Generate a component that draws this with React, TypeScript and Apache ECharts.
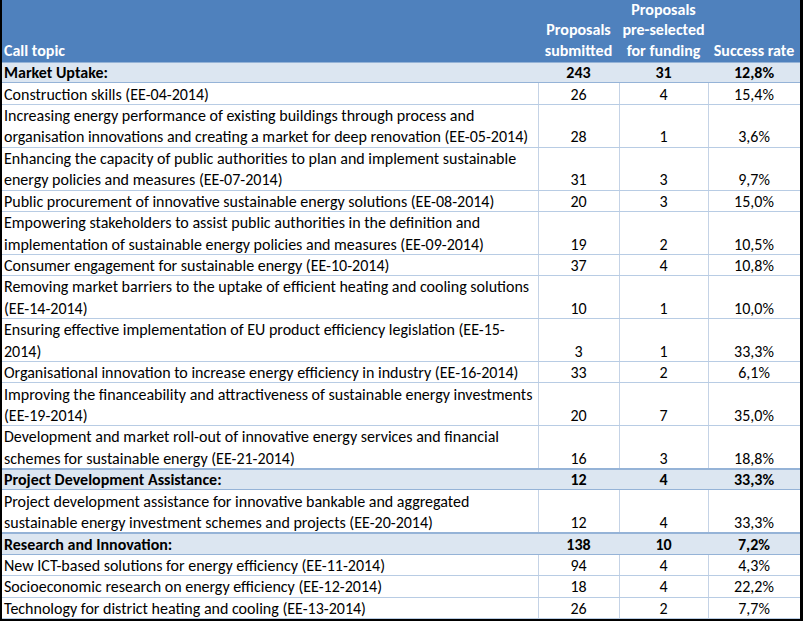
import React, { useEffect, useRef } from "react";
import * as echarts from "echarts";

// ---------- data ----------
const headerLabels = ["Call topic", "Proposals\nsubmitted", "Proposals\npre-selected\nfor funding", "Success rate"];

const topics = [
  "Market Uptake:",
  "Construction skills (EE-04-2014)",
  "Increasing energy performance of existing buildings through process and\norganisation innovations and creating a market for deep renovation (EE-05-2014)",
  "Enhancing the capacity of public authorities to plan and implement sustainable\nenergy policies and measures (EE-07-2014)",
  "Public procurement of innovative sustainable energy solutions (EE-08-2014)",
  "Empowering stakeholders to assist public authorities in the definition and\nimplementation of sustainable energy policies and measures (EE-09-2014)",
  "Consumer engagement for sustainable energy (EE-10-2014)",
  "Removing market barriers to the uptake of efficient heating and cooling solutions\n(EE-14-2014)",
  "Ensuring effective implementation of EU product efficiency legislation (EE-15-\n2014)",
  "Organisational innovation to increase energy efficiency in industry (EE-16-2014)",
  "Improving the financeability and attractiveness of sustainable energy investments\n(EE-19-2014)",
  "Development and market roll-out of innovative energy services and financial\nschemes for sustainable energy (EE-21-2014)",
  "Project Development Assistance:",
  "Project development assistance for innovative bankable and aggregated\nsustainable energy investment schemes and projects (EE-20-2014)",
  "Research and Innovation:",
  "New ICT-based solutions for energy efficiency (EE-11-2014)",
  "Socioeconomic research on energy efficiency (EE-12-2014)",
  "Technology for district heating and cooling (EE-13-2014)",
];

const submitted = [243, 26, 28, 31, 20, 19, 37, 10, 3, 33, 20, 16, 12, 12, 138, 94, 18, 26];
const preselected = [31, 4, 1, 3, 3, 2, 4, 1, 1, 2, 7, 3, 4, 4, 10, 4, 4, 2];
const successRate = [12.8, 15.4, 3.6, 9.7, 15.0, 10.5, 10.8, 10.0, 33.3, 6.1, 35.0, 18.8, 33.3, 33.3, 7.2, 4.3, 22.2, 7.7];
const isGroup = [true, false, false, false, false, false, false, false, false, false, false, false, true, false, true, false, false, false];

// ---------- layout / style ----------
const X_MAX = 798;
const COL_EDGES = [0, 536, 617, 706, X_MAX];
const HEADER_UNITS = 2.8;
const FONT = "Carlito, Calibri, Lato, sans-serif";
const FONT_SIZE = 16;
const HEADER_BG = "#4F81BD";
const GROUP_BG = "#DCE6F1";
const GROUP_LINE = "#95B3D7";
const ROW_LINE = "#B8CCE4";
const COL_LINE = "#C5D3E6";

const fmtRate = (v: number) => v.toFixed(1).replace(".", ",") + "%";

export default function App() {
  const ref = useRef<HTMLDivElement>(null);

  useEffect(() => {
    if (!ref.current) return;
    const chart = echarts.init(ref.current, null, { renderer: "svg" });

    const lineCounts = topics.map((t) => t.split("\n").length);
    const rows: number[][] = [];
    let acc = 0;
    lineCounts.forEach((n, i) => {
      rows.push([acc, acc + n, i]);
      acc += n;
    });
    const totalUnits = acc;

    const colCenter = (c: number) => (COL_EDGES[c] + COL_EDGES[c + 1]) / 2;

    const rowRender = (params: any, api: any) => {
      const y0 = api.value(0) as number;
      const y1 = api.value(1) as number;
      const i = api.value(2) as number;
      const [xL, yT] = api.coord([0, y0]);
      const [xR, yB] = api.coord([X_MAX, y1]);
      const unit = api.size([0, 1])[1];
      const top = Math.round(yT);
      const bot = Math.round(yB);
      const group = isGroup[i];
      const children: any[] = [];
      children.push({
        type: "rect",
        shape: { x: xL, y: top, width: xR - xL, height: bot - top },
        style: { fill: group ? GROUP_BG : "#FFFFFF" },
      });
      if (!group) {
        for (let c = 1; c < COL_EDGES.length - 1; c++) {
          const xc = Math.round(api.coord([COL_EDGES[c], 0])[0]) + 0.5;
          children.push({
            type: "line",
            shape: { x1: xc, y1: top, x2: xc, y2: bot },
            style: { stroke: COL_LINE, lineWidth: 1 },
          });
        }
      }
      children.push({
        type: "line",
        shape: { x1: xL, y1: bot - 0.5, x2: xR, y2: bot - 0.5 },
        style: { stroke: group || isGroup[i + 1] ? GROUP_LINE : ROW_LINE, lineWidth: 1 },
      });
      if (group) {
        children.push({
          type: "line",
          shape: { x1: xL, y1: top + 0.5, x2: xR, y2: top + 0.5 },
          style: { stroke: GROUP_LINE, lineWidth: 1 },
        });
      }
      const weight = group ? "bold" : "normal";
      children.push({
        type: "text",
        style: {
          text: topics[i],
          x: xL + 2,
          y: (yT + yB) / 2,
          align: "left",
          verticalAlign: "middle",
          lineHeight: unit,
          fontFamily: FONT,
          fontSize: FONT_SIZE,
          fontWeight: weight,
          fill: "#000000",
        },
      });
      const lastY = yB - unit / 2;
      const vals = [String(submitted[i]), String(preselected[i]), fmtRate(successRate[i])];
      vals.forEach((v, k) => {
        children.push({
          type: "text",
          style: {
            text: v,
            x: api.coord([colCenter(k + 1), 0])[0],
            y: lastY,
            align: "center",
            verticalAlign: "middle",
            fontFamily: FONT,
            fontSize: FONT_SIZE,
            fontWeight: weight,
            fill: "#000000",
          },
        });
      });
      return { type: "group", children };
    };

    const headerRender = (params: any, api: any) => {
      const [xL, yT] = api.coord([0, api.value(0)]);
      const [xR, yB] = api.coord([X_MAX, api.value(1)]);
      const children: any[] = [
        {
          type: "rect",
          shape: { x: xL, y: yT - 2, width: xR - xL, height: yB - yT + 2 },
          style: { fill: HEADER_BG },
        },
      ];
      headerLabels.forEach((h, c) => {
        children.push({
          type: "text",
          style: {
            text: h,
            x: c === 0 ? xL + 2 : api.coord([colCenter(c), 0])[0],
            y: yB - 1,
            align: c === 0 ? "left" : "center",
            verticalAlign: "bottom",
            lineHeight: 20.8,
            fontFamily: FONT,
            fontSize: FONT_SIZE,
            fontWeight: "bold",
            fill: "#FFFFFF",
          },
        });
      });
      return { type: "group", children };
    };

    chart.setOption({
      animation: false,
      backgroundColor: "#000000",
      grid: { left: 2, right: 3, top: 2, bottom: 2 },
      xAxis: { type: "value", min: 0, max: X_MAX, show: false },
      yAxis: { type: "value", min: -HEADER_UNITS, max: totalUnits, inverse: true, show: false },
      series: [
        {
          type: "custom",
          renderItem: headerRender,
          data: [[-HEADER_UNITS, 0]],
          clip: false,
          silent: true,
        },
        {
          type: "custom",
          renderItem: rowRender,
          data: rows,
          clip: false,
          silent: true,
        },
      ],
    });

    return () => chart.dispose();
  }, []);

  return (
    <div
      ref={ref}
      style={{ position: "fixed", left: 0, top: 0, width: 803, height: 621 }}
    />
  );
}
